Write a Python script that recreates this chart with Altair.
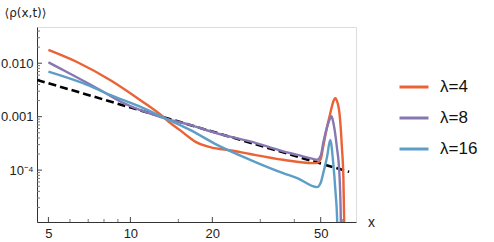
import altair as alt
import pandas as pd

# Mean density profiles <rho(x,t)> for three values of lambda
x_l4 = [5.0, 6.5, 8.42, 10.85, 13.18, 13.99, 15.22, 16.56, 17.5, 19.62, 23.84, 27.53, 36.4, 46.9,
        48.5, 50.0, 51.1, 52.8, 54.2, 55.6, 56.5, 57.5, 58.6, 59.8, 60.6, 61.0, 61.3]
y_l4 = [0.0177, 0.0100, 0.00487, 0.00206, 0.00100, 0.000766, 0.00056, 0.00040, 0.00033, 0.00027,
        0.00023, 0.00020, 0.000156, 0.000135, 0.000137, 0.00016, 0.00028, 0.00065, 0.00115, 0.0019,
        0.00222, 0.0019, 0.00118, 0.000276, 0.000066, 0.0000107, 0.000001]

x_l8 = [5.0, 5.65, 7.54, 9.40, 10.85, 13.18, 16.56, 20.82, 27.53, 36.4, 41.0, 47.7, 48.5, 50.0,
        51.1, 52.8, 54.0, 54.8, 55.7, 57.3, 58.6, 59.3, 59.6]
y_l8 = [0.0104, 0.0075, 0.00341, 0.00181, 0.00134, 0.00095, 0.000703, 0.000488, 0.000345,
        0.000225, 0.000193, 0.000159, 0.000156, 0.000185, 0.000324, 0.000645, 0.00090, 0.00102,
        0.00075, 0.000276, 0.000082, 0.0000107, 0.000001]

x_l16 = [5.0, 6.70, 8.42, 10.85, 13.5, 16.56, 20.82, 27.53, 36.4, 41.0, 48.5, 50.0, 51.1, 52.8,
         54.2, 55.6, 56.6, 57.5, 57.8]
y_l16 = [0.00697, 0.00423, 0.00256, 0.00154, 0.00092, 0.000566, 0.000297, 0.000156, 0.0000879,
         0.0000709, 0.0000481, 0.000058, 0.0000879, 0.00018, 0.000368, 0.000135, 0.0000428,
         0.0000107, 0.000001]

# Power-law guide (slope -3/2), given by its two end points
x_guide = [4.54, 63.6]
y_guide = [0.00487, 0.0000929]

series_names = ["λ=4", "λ=8", "λ=16"]
series_colors = ["#EB6235", "#8778B3", "#5D9EC7"]

x_major = [5, 10, 20, 50]
x_minor = [6, 7, 8, 9, 15, 30, 40, 60]
y_major = [0.0001, 0.001, 0.01]
y_minor = ([k * 1e-5 for k in range(2, 10)] + [k * 1e-4 for k in range(2, 10)]
           + [k * 1e-3 for k in range(2, 10)] + [k * 1e-2 for k in range(2, 5)])

rows = []
for name, xs, ys in zip(series_names, [x_l4, x_l8, x_l16], [y_l4, y_l8, y_l16]):
    for xv, yv in zip(xs, ys):
        rows.append({"x": xv, "y": yv, "series": name})
curves = pd.DataFrame(rows)
guide = pd.DataFrame({"x": x_guide, "y": y_guide})

W, H = 319, 195
FONT = "Liberation Sans"
TITLE_FONT = "DejaVu Sans"

xs_scale = alt.Scale(type="log", domain=[4.54, 67.4], nice=False)
ys_scale = alt.Scale(type="log", domain=[1.07e-5, 0.0476], nice=False)

x_axis = alt.Axis(values=x_major, format="d", title="x", grid=False, ticks=False,
                  labelFont=FONT, labelFontSize=13, labelColor="#222", labelPadding=5,
                  domainColor="#333", titleFont=FONT, titleFontSize=14, titleFontWeight="normal",
                  titleColor="#222", titleX=W + 15, titleY=0, titleBaseline="middle",
                  titleAlign="center", labelFlush=False)
y_axis = alt.Axis(values=y_major, title="⟨ρ(x,t)⟩", grid=False, ticks=False,
                  labelExpr="datum.value > 0.005 ? '0.010' : datum.value > 0.0005 ? '0.001' : '10⁻⁴'",
                  labelFont=FONT, labelFontSize=13, labelColor="#222", labelPadding=4,
                  domainColor="#333", titleFont=TITLE_FONT, titleFontSize=12,
                  titleFontWeight="normal", titleColor="#222", titleAngle=0, titleAlign="left",
                  titleBaseline="middle", titleX=-33, titleY=-15, labelFlush=False)

X = alt.X("x:Q", scale=xs_scale, axis=x_axis)
Y = alt.Y("y:Q", scale=ys_scale, axis=y_axis)

lines = alt.Chart(curves).mark_line(strokeWidth=2.4, clip=True, interpolate="monotone").encode(
    x=X, y=Y,
    color=alt.Color("series:N", scale=alt.Scale(domain=series_names, range=series_colors),
                    sort=series_names,
                    legend=alt.Legend(title=None, orient="none", legendX=361, legendY=44,
                                      symbolType="stroke", symbolSize=841, symbolStrokeWidth=3,
                                      labelFont=FONT, labelFontSize=17, labelColor="#111",
                                      labelOffset=10, rowPadding=7)),
    detail="series:N",
)

dashed = alt.Chart(guide).mark_line(color="black", strokeWidth=2.6, strokeDash=[8, 4],
                                    clip=True).encode(x=X, y=Y)

xmaj = alt.Chart(pd.DataFrame({"x": x_major})).mark_rule(color="#444", strokeWidth=1).encode(
    x=X, y=alt.value(H), y2=alt.value(H - 5))
xmin = alt.Chart(pd.DataFrame({"x": x_minor})).mark_rule(color="#777", strokeWidth=1).encode(
    x=X, y=alt.value(H), y2=alt.value(H - 3))
ymaj = alt.Chart(pd.DataFrame({"y": y_major})).mark_rule(color="#444", strokeWidth=1).encode(
    y=Y, x=alt.value(0), x2=alt.value(5))
ymin = alt.Chart(pd.DataFrame({"y": y_minor})).mark_rule(color="#777", strokeWidth=1).encode(
    y=Y, x=alt.value(0), x2=alt.value(3))

chart = alt.layer(xmin, xmaj, ymin, ymaj, dashed, lines).properties(
    width=W, height=H,
    autosize=alt.AutoSizeParams(type="none"),
    padding={"left": 37, "top": 27, "right": 138, "bottom": 20},
).configure_view(stroke=None).configure(background="white")

chart.save("out.html", embed_options={"renderer": "svg", "actions": False})
